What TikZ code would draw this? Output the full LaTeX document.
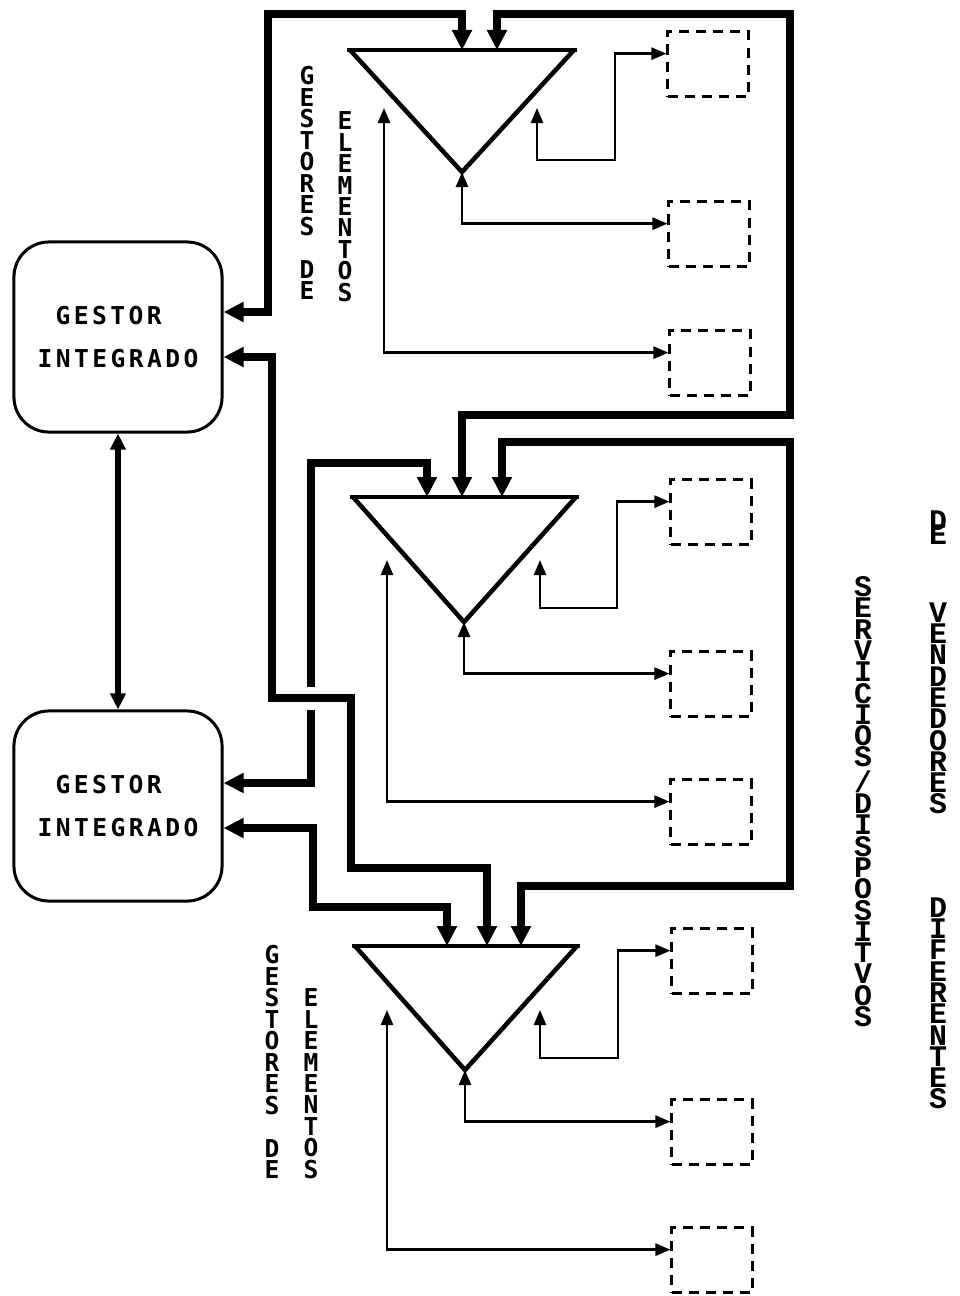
\documentclass[tikz,border=0pt]{standalone}
\usepackage{fontspec}
\newfontfamily\plotfont{DejaVu Sans Mono}[LetterSpace=14]
\newfontfamily\printfont{Liberation Mono}
\usetikzlibrary{arrows.meta,positioning}

\tikzset{
  gestor/.style={draw, line width=0.3mm, rounded corners=3.5mm, minimum width=2.08cm, minimum height=1.9cm, align=left, font=\plotfont\bfseries\fontsize{7}{12}\selectfont},
  disp/.style={draw, dash pattern=on 1mm off 0.7mm, line width=0.3mm, minimum width=0.8cm, minimum height=0.65cm},
  tri/.style={line width=0.45mm},
  bus/.style={line width=0.8mm, >={Triangle[length=2mm,width=1.9mm]}},
  gbus/.style={line width=0.5mm, >={Triangle[length=1.6mm,width=1.5mm]}},
  lnk/.style={line width=0.25mm, >={Triangle[length=1.5mm,width=1.2mm]}},
  vlabel/.style={inner sep=0pt, anchor=north, align=center, font=\plotfont\bfseries\fontsize{7}{6.1}\selectfont},
  rlabel/.style={inner sep=0pt, anchor=north, align=center, font=\printfont\bfseries\fontsize{8.5}{6.05}\selectfont},
}

\begin{document}
\begin{tikzpicture}[x=0.01cm, y=-0.01cm]
  \useasboundingbox (0,0) rectangle (959,1296);

  %% Gestores integrados
  \node[gestor] (gi1) at (118,337) {\hspace*{1.8mm}GESTOR\\INTEGRADO};
  \node[gestor] (gi2) at (118,806) {\hspace*{1.8mm}GESTOR\\INTEGRADO};
  \draw[gbus,<->] (gi1) -- (gi2);

  %% Gestor de elementos 1 (top)
  \coordinate (t1a) at (462,172);
  \coordinate (t1p1) at (462,50);
  \coordinate (t1p2) at (497,50);
  \coordinate (t1l) at (384,108);
  \coordinate (t1r) at (537,108);
  \draw[tri] (347,50) -- (577,50);
  \draw[tri] (350,50) -- (t1a) -- (574,50);
  \node[disp] (b1a) at (708,64) {};
  \node[disp] (b1b) at (709,234) {};
  \node[disp] (b1c) at (710,363) {};
  \draw[lnk,<->] (t1r) |- (615,160) |- (b1a.166);
  \draw[lnk,<->] (t1a) |- (b1b.166);
  \draw[lnk,<->] (t1l) |- (b1c.166);
  \node[vlabel] (lab1a) at (307,66) {G\\E\\S\\T\\O\\R\\E\\S\\[6.1pt]D\\E};
  \node[vlabel] (lab1b) at (345,111) {E\\L\\E\\M\\E\\N\\T\\O\\S};

  %% Gestor de elementos 2 (middle)
  \coordinate (t2a) at (464,622);
  \coordinate (t2p1) at (427,497);
  \coordinate (t2p2) at (462,497);
  \coordinate (t2p3) at (502,497);
  \coordinate (t2l) at (387,560);
  \coordinate (t2r) at (540,560);
  \draw[tri] (350,497) -- (579,497);
  \draw[tri] (353,497) -- (t2a) -- (576,497);
  \node[disp] (b2a) at (711,512) {};
  \node[disp] (b2b) at (711,684) {};
  \node[disp] (b2c) at (711,812) {};
  \draw[lnk,<->] (t2r) |- (617,608) |- (b2a.166);
  \draw[lnk,<->] (t2a) |- (b2b.166);
  \draw[lnk,<->] (t2l) |- (b2c.166);

  %% Gestor de elementos 3 (bottom)
  \coordinate (t3a) at (465,1070);
  \coordinate (t3p1) at (447,946);
  \coordinate (t3p2) at (487,946);
  \coordinate (t3p3) at (521,946);
  \coordinate (t3l) at (387,1010);
  \coordinate (t3r) at (540,1010);
  \draw[tri] (352,946) -- (580,946);
  \draw[tri] (355,946) -- (t3a) -- (577,946);
  \node[disp] (b3a) at (712,961) {};
  \node[disp] (b3b) at (712,1132) {};
  \node[disp] (b3c) at (712,1260) {};
  \draw[lnk,<->] (t3r) |- (618,1058) |- (b3a.166);
  \draw[lnk,<->] (t3a) |- (b3b.166);
  \draw[lnk,<->] (t3l) |- (b3c.166);
  \node[vlabel] (lab3a) at (272,945) {G\\E\\S\\T\\O\\R\\E\\S\\[6.1pt]D\\E};
  \node[vlabel] (lab3b) at (311,988) {E\\L\\E\\M\\E\\N\\T\\O\\S};

  %% Thick connections
  \draw[bus,<->] ([yshift=2.5mm]gi1.east) -| (268,14) -| (t1p1);
  \draw[bus,<->] (t1p2) |- (790,14) |- (462,415) -- (t2p2);
  \draw[bus,<->] (t2p3) |- (790,442) |- (521,886) -- (t3p3);
  \draw[bus,<-] ([yshift=2.3mm]gi2.east) -| (311,710);
  \draw[bus,->] (311,687) |- (427,463) -- (t2p1);
  \draw[bus,<->] ([yshift=-2mm]gi1.east) -| (272,698) -| (351,868) -| (t3p2);
  \draw[bus,<->] ([yshift=-2.2mm]gi2.east) -| (313,907) -| (t3p1);

  %% Right side labels
  \node[rlabel] (serv) at (863,576) {S\\E\\R\\V\\I\\C\\I\\O\\S\\/\\D\\I\\S\\P\\O\\S\\I\\T\\V\\O\\S};
  \node[rlabel] (de) at (938,510) {D\\[-0.7mm]E};
  \node[rlabel] (vend) at (938,602) {V\\E\\N\\D\\E\\D\\O\\R\\E\\S};
  \node[rlabel] (dif) at (938,897) {D\\I\\F\\E\\R\\E\\N\\T\\E\\S};
\end{tikzpicture}
\end{document}
